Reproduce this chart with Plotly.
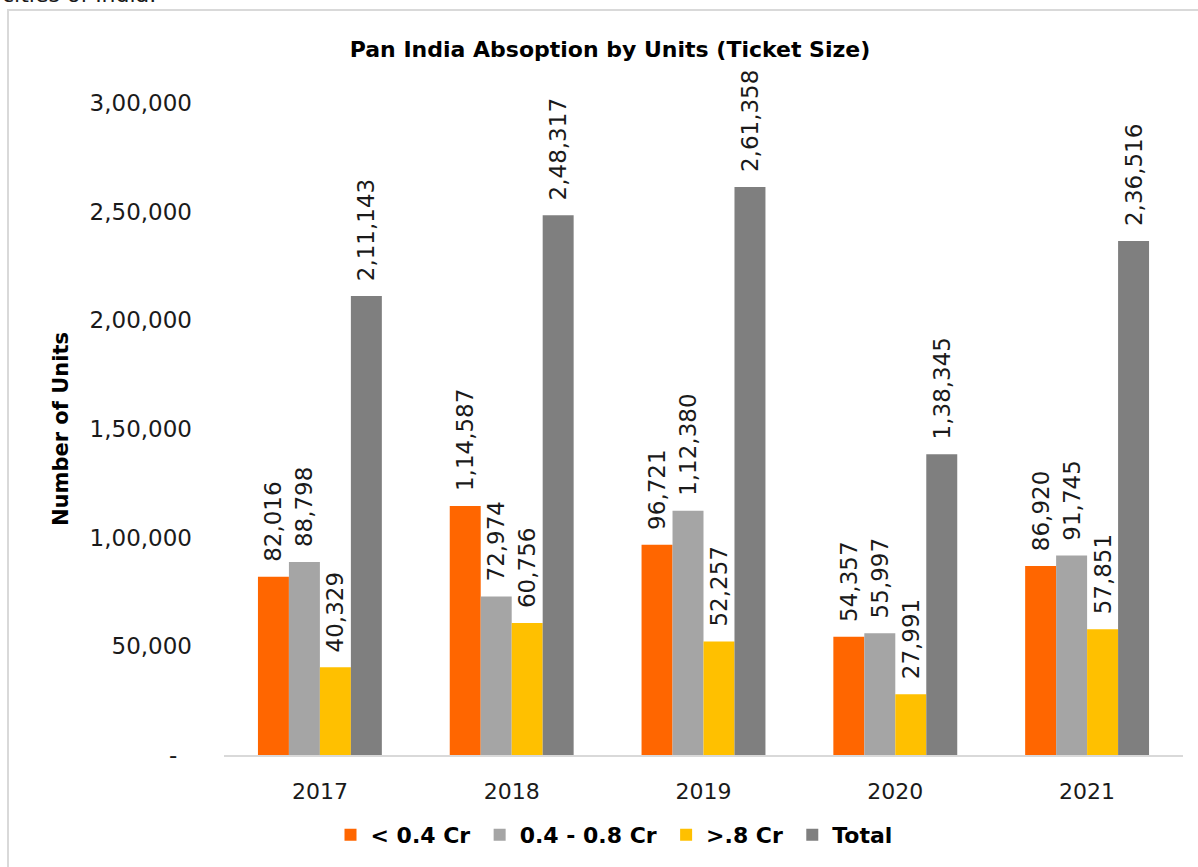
import plotly.graph_objects as go

years = ["2017", "2018", "2019", "2020", "2021"]
below_04 = [82016, 114587, 96721, 54357, 86920]
mid_04_08 = [88798, 72974, 112380, 55997, 91745]
above_08 = [40329, 60756, 52257, 27991, 57851]
total = [211143, 248317, 261358, 138345, 236516]
series_names = ["< 0.4 Cr", "0.4 - 0.8 Cr", ">.8 Cr", "Total"]
series_colors = ["#FF6600", "#A5A5A5", "#FFC000", "#7F7F7F"]
y_tickvals = [0, 50000, 100000, 150000, 200000, 250000, 300000]
y_ticktext = ["-\u00a0\u00a0", "50,000", "1,00,000", "1,50,000", "2,00,000", "2,50,000", "3,00,000"]


def indian(n):
    s = str(int(n))
    if len(s) <= 3:
        return s
    last3 = s[-3:]
    rest = s[:-3]
    parts = []
    while len(rest) > 2:
        parts.insert(0, rest[-2:])
        rest = rest[:-2]
    if rest:
        parts.insert(0, rest)
    return ",".join(parts) + "," + last3


W, H = 1198, 867
ML, MR, MT, MB = 224, 15, 103, 112
PW, PH = W - ML - MR, H - MT - MB


def px_x(x):
    return (x - ML) / PW


def px_y(y):
    return 1 - (y - MT) / PH


FONT = "DejaVu Sans"
PAD = "\u00a0\u2009"

fig = go.Figure()
for i, (name, vals, col) in enumerate(zip(series_names, [below_04, mid_04_08, above_08, total], series_colors)):
    label = "<b>" + name + "</b>" + ("\u2009" if i < len(series_names) - 1 else "")
    fig.add_trace(go.Bar(
        x=years, y=vals, name=label,
        marker=dict(color=col, line=dict(width=0)),
        text=[PAD + indian(v) for v in vals],
        textposition="outside", textangle=-90,
        constraintext="none", cliponaxis=False,
        textfont=dict(family=FONT, size=23, color="#1a1a1a"),
    ))

fig.update_layout(
    width=W, height=H,
    margin=dict(l=ML, r=MR, t=MT, b=MB, autoexpand=False),
    paper_bgcolor="white", plot_bgcolor="white",
    barmode="group", bargap=0.354, bargroupgap=0,
    font=dict(family=FONT, color="#000000"),
    title=dict(text="<b>Pan India Absoption by Units (Ticket Size)</b>",
               x=610 / W, xref="container", xanchor="center",
               y=1 - 49 / H, yref="container", yanchor="middle",
               font=dict(family=FONT, size=22, color="#000000")),
    xaxis=dict(showgrid=False, showline=True, linecolor="#D9D9D9", linewidth=1.5,
               ticks="", tickfont=dict(family=FONT, size=22, color="#1a1a1a"),
               ticklabelstandoff=16, automargin=False),
    yaxis=dict(range=[0, 300000], showgrid=False, zeroline=False, showline=False,
               tickvals=y_tickvals, ticktext=y_ticktext, ticks="",
               tickfont=dict(family=FONT, size=23, color="#1a1a1a"),
               ticklabelstandoff=31, automargin=False),
    legend=dict(orientation="h", xref="container", yref="container",
                x=614 / W, xanchor="center", y=1 - 835 / H, yanchor="middle",
                font=dict(family=FONT, size=22, color="#000000"),
                itemwidth=30, tracegroupgap=0),
    showlegend=True,
)

fig.add_annotation(text="<b>Number of Units</b>", textangle=-90,
                   xref="paper", yref="paper", x=px_x(61), y=px_y(429),
                   xanchor="center", yanchor="middle", showarrow=False,
                   font=dict(family=FONT, size=21, color="#000000"))

fig.add_annotation(text="cities of India.", xref="paper", yref="paper",
                   x=px_x(0), y=px_y(9), xanchor="left", yanchor="bottom",
                   showarrow=False,
                   font=dict(family=FONT, size=22, color="#1a1a1a"))

fig.add_shape(type="rect", xref="paper", yref="paper",
              x0=px_x(8), x1=px_x(1199), y0=px_y(10), y1=px_y(869),
              line=dict(color="#D9D9D9", width=2), fillcolor="rgba(0,0,0,0)",
              layer="below")

fig.write_html("out.html")
